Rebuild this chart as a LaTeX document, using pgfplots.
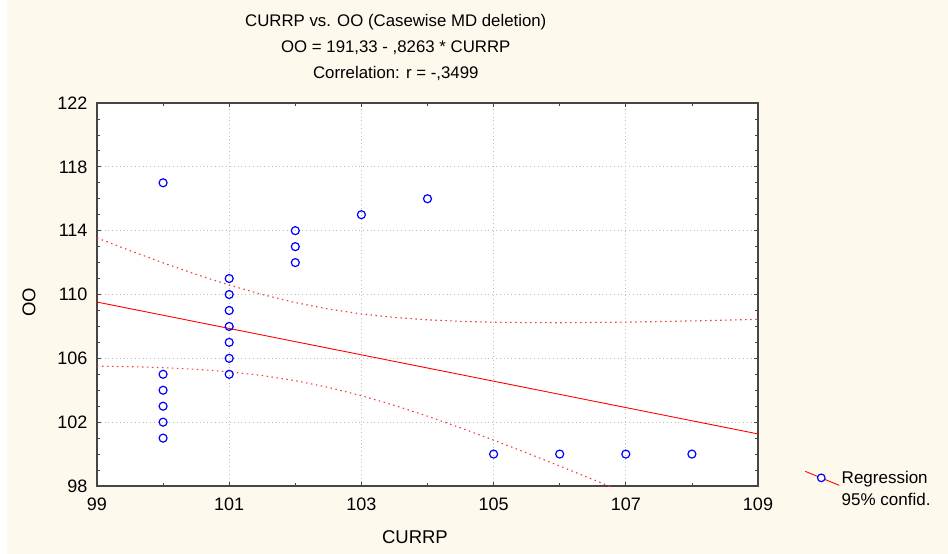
\documentclass[border=0pt]{standalone}
\usepackage{fontspec}
\setmainfont{Liberation Sans}
\usepackage{pgfplots}
\pgfplotsset{compat=1.18}
\definecolor{bgcream}{RGB}{253,249,237}
\definecolor{framegray}{RGB}{70,70,70}
\definecolor{gridgray}{RGB}{190,190,190}
\definecolor{bandred}{RGB}{240,60,60}

\begin{document}
\begin{tikzpicture}
\fill[bgcream] (-97pt,-68pt) rectangle (851pt,486pt);
\fill[white] (-97pt,-68pt) rectangle (-90pt,486pt);
\begin{axis}[
  at={(0,0)}, anchor=south west,
  scale only axis, width=661pt, height=383pt,
  xmin=99, xmax=109, ymin=98, ymax=122,
  xtick={99,101,...,109}, ytick={98,102,...,122},
  minor x tick num=1, minor y tick num=3,
  tick align=inside, major tick length=4pt, minor tick length=3pt,
  tick style={draw=framegray, line width=0.8pt},
  grid=major, major grid style={dash pattern=on 0.8pt off 3pt, draw=gridgray, line width=0.8pt},
  axis background/.style={fill=white},
  axis line style={draw=framegray, line width=1.3pt},
  ticklabel style={font=\fontsize{18}{21}\selectfont},
  xticklabel style={yshift=-8pt},
  yticklabel style={xshift=-6pt},
  /pgf/number format/assume math mode=true,
  xlabel={CURRP}, ylabel={OO},
  label style={font=\fontsize{18.5}{22}\selectfont},
  xlabel style={at={(axis description cs:0.481,-0.133)}, anchor=center},
  ylabel style={at={(axis description cs:-0.103,0.48)}, anchor=center, rotate=0},
  title={CURRP vs. OO (Casewise MD deletion)\\OO = 191,33 - ,8263 * CURRP\\Correlation: r = -,3499},
  title style={at={(axis description cs:0.452,1)}, anchor=south, align=center, yshift=13pt,
    font=\fontsize{16.8}{26}\selectfont},
  legend style={at={(1.066,0.049)}, anchor=north west, draw=none, fill=none,
    font=\fontsize{17}{20}\selectfont, row sep=4pt},
  legend cell align=left,
]
% observed cases
\addplot[only marks, mark=o, mark size=4pt, draw=blue, mark options={line width=1.2pt}, forget plot]
coordinates {
  (100,117) (100,105) (100,104) (100,103) (100,102) (100,101)
  (101,111) (101,110) (101,109) (101,108) (101,107) (101,106) (101,105)
  (102,114) (102,113) (102,112)
  (103,115) (104,116)
  (105,100) (106,100) (107,100) (108,100)
};
% fitted line
\addplot[red, line width=0.9pt,
  legend image code/.code={
    \draw[red, line width=0.9pt] (-4pt,7pt) -- (30pt,-7pt);
    \draw[blue, line width=1.2pt, fill=white] (12pt,0.5pt) circle (3.8pt);
  }]
coordinates {(99,109.526) (109,101.263)};
\addlegendentry{Regression}
% 95% confidence band, upper
\addplot[bandred, dash pattern=on 1.5pt off 3.5pt, line width=1.1pt, forget plot] coordinates {
  (99,113.544) (99.5,112.748) (100,111.983) (100.5,111.259) (101,110.592)
  (101.5,109.998) (102,109.494) (102.5,109.089) (103,108.782) (103.5,108.562)
  (104,108.413) (104.5,108.318) (105,108.263) (105.5,108.237) (106,108.232)
  (106.5,108.244) (107,108.269) (107.5,108.303) (108,108.345) (108.5,108.393)
  (109,108.446)
};
% 95% confidence band, lower
\addplot[bandred, dash pattern=on 1.5pt off 3.5pt, line width=1.1pt, forget plot] coordinates {
  (99,105.509) (99.5,105.478) (100,105.418) (100.5,105.314) (101,105.155)
  (101.5,104.923) (102,104.601) (102.5,104.180) (103,103.660) (103.5,103.053)
  (104,102.376) (104.5,101.645) (105,100.874) (105.5,100.074) (106,99.252)
  (106.5,98.414) (107,97.563)
};
\addlegendimage{empty legend}
\addlegendentry{95\% confid.}
\end{axis}
\end{tikzpicture}
\end{document}
